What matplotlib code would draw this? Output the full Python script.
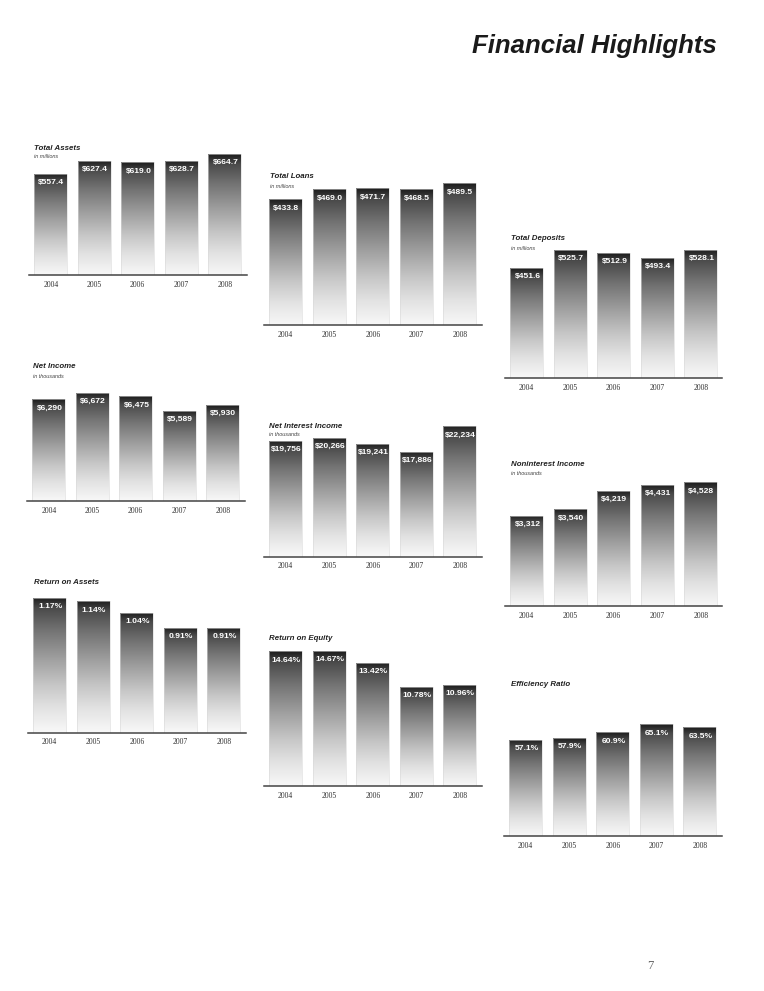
import numpy as np
import matplotlib
matplotlib.use("Agg")
import matplotlib.pyplot as plt
from matplotlib.colors import LinearSegmentedColormap

# Data (2004-2008)
years = ['2004', '2005', '2006', '2007', '2008']
total_assets = [557.4, 627.4, 619.0, 628.7, 664.7]
total_loans = [433.8, 469.0, 471.7, 468.5, 489.5]
total_deposits = [451.6, 525.7, 512.9, 493.4, 528.1]
net_income = [6290, 6672, 6475, 5589, 5930]
net_interest_income = [19756, 20266, 19241, 17886, 22234]
noninterest_income = [3312, 3540, 4219, 4431, 4528]
return_on_assets = [1.17, 1.14, 1.04, 0.91, 0.91]
return_on_equity = [14.64, 14.67, 13.42, 10.78, 10.96]
efficiency_ratio = [57.1, 57.9, 60.9, 65.1, 63.5]

W, H = 764, 991
fig = plt.figure(figsize=(W / 100, H / 100), dpi=100)

# dark at the top of each bar, fading to white at the bottom
grad = LinearSegmentedColormap.from_list(
    'bar', [(0.0, '#f8f8f8'), (0.18, '#e2e2e2'), (0.35, '#c6c6c6'), (0.55, '#9e9e9e'),
            (0.75, '#747474'), (0.92, '#4a4a4a'), (1.0, '#1c1c1c')])

# title, subtitle, values, label format, x-left, baseline, tallest bar px, ymin, title xy
charts = [
    ('Total Assets', 'in millions', total_assets, '${:.1f}', 29, 275, 121, 0, (34, 148)),
    ('Total Loans', 'in millions', total_loans, '${:.1f}', 264, 325, 141.7, 0, (270, 177)),
    ('Total Deposits', 'in millions', total_deposits, '${:.1f}', 505, 378, 128.5, 0, (511, 239)),
    ('Net Income', 'in thousands', net_income, '${:,.0f}', 27, 501, 108, 0, (33, 367)),
    ('Net Interest Income', 'in thousands', net_interest_income, '${:,.0f}', 264, 556.5, 130, 0, (269, 426)),
    ('Noninterest Income', 'in thousands', noninterest_income, '${:,.0f}', 505, 606, 123.7, 0, (511, 465)),
    ('Return on Assets', None, return_on_assets, '{:.2f}%', 28, 732.5, 134.7, 0, (34, 582)),
    ('Return on Equity', None, return_on_equity, '{:.2f}%', 264, 786, 135, 0, (269, 638)),
    ('Efficiency Ratio', None, efficiency_ratio, '{:.1f}%', 504, 836, 111.7, 7, (511, 685)),
]

axis_w = 217.5
x = np.arange(len(years))
g = np.linspace(0, 1, 256).reshape(-1, 1)

for title, sub, vals, fmt, x0, base, hpx, ymin, (tx, ty) in charts:
    ax = fig.add_axes([x0 / W, 1 - base / H, axis_w / W, hpx / H])
    bars = ax.bar(x, np.array(vals) - ymin, width=0.75, bottom=ymin,
                  color='none', edgecolor='#d8d8d8', linewidth=0.4)
    for b, v in zip(bars, vals):
        im = ax.imshow(g, cmap=grad, origin='lower', aspect='auto', interpolation='bicubic',
                       extent=(b.get_x(), b.get_x() + b.get_width(), b.get_y(), b.get_y() + b.get_height()))
        im.set_clip_path(b)
        ax.annotate(fmt.format(v), (b.get_x() + b.get_width() / 2, b.get_y() + b.get_height()),
                    xytext=(0.5, -3.8), textcoords='offset points', ha='center', va='top',
                    color='white', fontsize=6.1, fontweight='bold', family='Liberation Sans')
    ax.set_xlim(-0.5, len(years) - 0.5)
    ax.set_ylim(ymin, max(vals))
    for s in ('top', 'left', 'right'):
        ax.spines[s].set_visible(False)
    ax.spines['bottom'].set_color('#444444')
    ax.spines['bottom'].set_linewidth(1.1)
    ax.set_yticks([])
    ax.set_xticks(x)
    ax.set_xticklabels(years, family='Liberation Serif', fontsize=5.5, color='#333333')
    ax.tick_params(axis='x', length=0, pad=4)
    ax.patch.set_alpha(0)

    fig.text(tx / W, 1 - ty / H, title, ha='left', va='center', family='Liberation Sans',
             fontsize=5.7, fontweight='bold', style='italic', color='#222222')
    if sub:
        fig.text(tx / W, 1 - (ty + 9) / H, sub, ha='left', va='center', family='Liberation Sans',
                 fontsize=4, style='italic', color='#444444')

fig.text(717 / W, 1 - 53 / H, 'Financial Highlights', ha='right', va='baseline',
         family='Liberation Sans', fontsize=18.5, fontweight='bold', style='italic', color='#1a1a1a')
fig.text(650 / W, 1 - 966 / H, '7', ha='center', va='center', family='Liberation Serif',
         fontsize=9, color='#666666')

fig.savefig('out.png', dpi=100)
